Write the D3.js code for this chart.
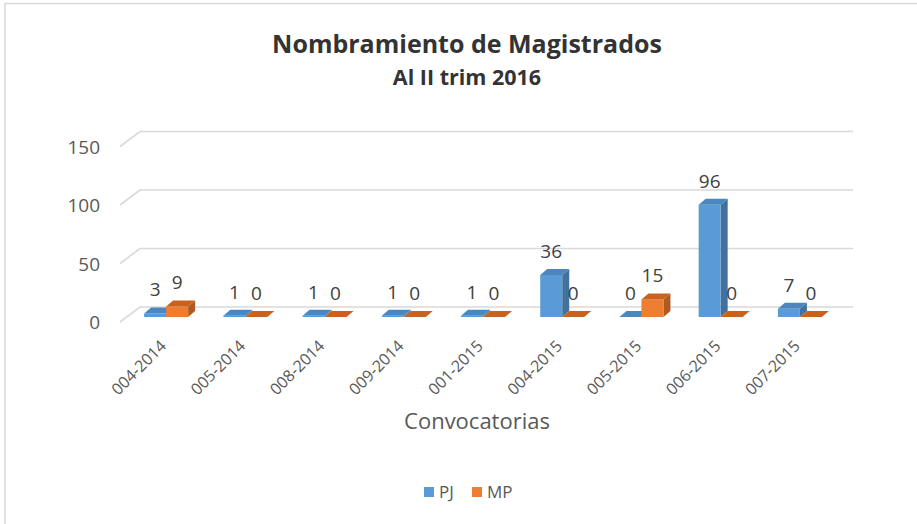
<!DOCTYPE html>
<html>
<head>
<meta charset="utf-8">
<script src="https://cdn.jsdelivr.net/npm/d3@7"></script>
<style>
  html, body { margin: 0; padding: 0; background: #fff; }
  svg { display: block; font-family: "Open Sans", "Noto Sans", sans-serif; }
</style>
</head>
<body>
<svg id="chart" width="917" height="524"></svg>
<script>
// ---- data ----
const categories = ["004-2014", "005-2014", "008-2014", "009-2014", "001-2015", "004-2015", "005-2015", "006-2015", "007-2015"];
const seriesNames = ["PJ", "MP"];
const pjValues = [3, 1, 1, 1, 1, 36, 0, 96, 7];
const mpValues = [9, 0, 0, 0, 0, 0, 15, 0, 0];
const yTicks = [0, 50, 100, 150];
const titleText = "Nombramiento de Magistrados";
const subtitleText = "Al II trim 2016";
const xAxisTitle = "Convocatorias";

// ---- styling / geometry ----
const colors = {
  PJ: { front: "#5B9BD5", top: "#4C86BE", side: "#41719C" },
  MP: { front: "#ED7D31", top: "#C8621C", side: "#AE5A21" }
};
const floorDepth = { dx: 20, dy: -15 };   // front plane -> back wall
const barOffset = { dx: 6.5, dy: -5 };    // front plane -> bar front face
const barDepth = { dx: 7, dy: -6 };       // bar front -> bar back
const barW = 22;

const svg = d3.select("#chart");

// chart border (partially outside of view)
svg.append("rect").attr("x", 5).attr("y", 3.5).attr("width", 1000).attr("height", 1000)
  .attr("fill", "none").attr("stroke", "#d9d9d9").attr("stroke-width", 1.5);

const y = d3.scaleLinear().domain([0, 150]).range([322, 146.5]);
const x = d3.scaleBand().domain(categories).range([120, 833]);

// gridlines (left wall diagonal + back wall line)
const grid = svg.append("g");
yTicks.forEach(t => {
  const yf = y(t);
  grid.append("polyline")
    .attr("points", [
      [x.range()[0], yf],
      [x.range()[0] + floorDepth.dx, yf + floorDepth.dy],
      [x.range()[1] + floorDepth.dx, yf + floorDepth.dy]
    ].map(p => p.join(",")).join(" "))
    .attr("fill", "none").attr("stroke", "#d9d9d9").attr("stroke-width", 1.6);
});

// y tick labels
svg.append("g").selectAll("text").data(yTicks).join("text")
  .attr("x", 100).attr("y", d => y(d))
  .attr("text-anchor", "end").attr("dominant-baseline", "central")
  .attr("font-size", 19).attr("fill", "#595959")
  .text(d => d);

// bars
const rows = [];
categories.forEach((c, i) => {
  const cx = x(c) + x.bandwidth() / 2 + barOffset.dx;
  [pjValues[i], mpValues[i]].forEach((v, s) => {
    rows.push({ c, v, s: seriesNames[s], x0: cx - barW + s * barW });
  });
});

const bars = svg.append("g");
rows.forEach(r => {
  const col = colors[r.s];
  const yb = y(0) + barOffset.dy;
  const yt = y(r.v) + barOffset.dy;
  const x0 = r.x0, x1 = r.x0 + barW;
  const dx = barDepth.dx, dy = barDepth.dy;
  const g = bars.append("g");
  g.append("polygon").attr("points", [[x1, yb], [x1 + dx, yb + dy], [x1 + dx, yt + dy], [x1, yt]].map(p => p.join(",")).join(" "))
    .attr("fill", col.side);
  if (r.v > 0) {
    g.append("rect").attr("x", x0).attr("y", yt).attr("width", barW).attr("height", yb - yt).attr("fill", col.front);
  }
  g.append("polygon").attr("points", [[x0, yt], [x0 + dx, yt + dy], [x1 + dx, yt + dy], [x1, yt]].map(p => p.join(",")).join(" "))
    .attr("fill", col.top);
});

// data labels
svg.append("g").selectAll("text").data(rows).join("text")
  .attr("x", d => d.x0 + barW / 2)
  .attr("y", d => y(d.v) + barOffset.dy - 17)
  .attr("text-anchor", "middle")
  .attr("font-size", 19).attr("fill", "#404040")
  .text(d => d.v);

// x tick labels
svg.append("g").selectAll("text").data(categories).join("text")
  .attr("transform", d => `translate(${x(d) + x.bandwidth() / 2 + barOffset.dx + 1},${347}) rotate(-45)`)
  .attr("text-anchor", "end")
  .attr("font-size", 16).attr("fill", "#595959")
  .text(d => d);

// titles
svg.append("text").attr("x", 467).attr("y", 53).attr("text-anchor", "middle")
  .attr("font-size", 25).attr("font-weight", "bold").attr("fill", "#333333").text(titleText);
svg.append("text").attr("x", 467).attr("y", 85).attr("text-anchor", "middle")
  .attr("font-size", 21.5).attr("font-weight", "bold").attr("fill", "#333333").text(subtitleText);

// axis title
svg.append("text").attr("x", 477).attr("y", 429).attr("text-anchor", "middle")
  .attr("font-size", 22).attr("fill", "#595959").text(xAxisTitle);

// legend
const legend = svg.append("g");
const legendX = [424, 472];
seriesNames.forEach((n, i) => {
  legend.append("rect").attr("x", legendX[i]).attr("y", 487).attr("width", 10).attr("height", 10).attr("fill", colors[n].front);
  legend.append("text").attr("x", legendX[i] + 15).attr("y", 497.5).attr("font-size", 17).attr("fill", "#595959").text(n);
});
</script>
</body>
</html>
